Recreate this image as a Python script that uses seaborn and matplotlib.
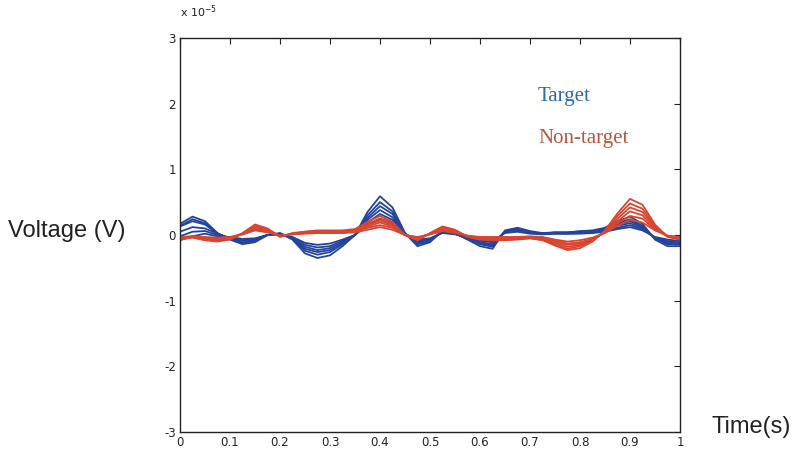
import numpy as np
import pandas as pd
import matplotlib
matplotlib.use("Agg")
import matplotlib.pyplot as plt
import seaborn as sns

# time axis (s)
time_s = [round(i * 0.025, 3) for i in range(41)]

# Target traces (units of 1e-5 V)
target_traces = [
    [0.17,0.28,0.21,0.03,-0.07,-0.14,-0.11,0.00,0.03,-0.07,-0.28,-0.35,-0.31,-0.17,0.00,0.35,0.59,0.42,0.03,-0.17,-0.11,0.07,0.03,-0.07,-0.17,-0.21,0.07,0.11,0.06,0.03,0.04,0.04,0.06,0.07,0.11,0.21,0.28,0.17,-0.07,-0.17,-0.17],
    [0.14,0.24,0.18,0.02,-0.06,-0.12,-0.10,0.00,0.02,-0.06,-0.24,-0.30,-0.26,-0.14,0.00,0.30,0.50,0.36,0.02,-0.14,-0.10,0.06,0.02,-0.06,-0.14,-0.18,0.06,0.10,0.05,0.02,0.04,0.04,0.05,0.06,0.10,0.18,0.24,0.14,-0.06,-0.14,-0.14],
    [0.13,0.21,0.16,0.02,-0.05,-0.11,-0.08,0.00,0.02,-0.05,-0.21,-0.26,-0.23,-0.13,0.00,0.26,0.44,0.32,0.02,-0.13,-0.08,0.05,0.02,-0.05,-0.13,-0.16,0.05,0.08,0.04,0.02,0.03,0.03,0.04,0.05,0.08,0.16,0.21,0.13,-0.05,-0.13,-0.15],
    [0.05,0.12,0.10,0.02,-0.05,-0.09,-0.07,0.00,0.02,-0.05,-0.18,-0.23,-0.20,-0.11,0.00,0.23,0.38,0.27,0.02,-0.11,-0.07,0.05,0.02,-0.05,-0.11,-0.14,0.05,0.07,0.04,0.02,0.03,0.03,0.04,0.05,0.07,0.14,0.18,0.11,-0.05,-0.11,-0.13],
    [-0.02,0.05,0.06,0.00,-0.04,-0.08,-0.06,0.00,0.02,-0.04,-0.15,-0.19,-0.17,-0.09,0.00,0.19,0.32,0.23,0.02,-0.09,-0.06,0.04,0.02,-0.04,-0.09,-0.11,0.04,0.06,0.03,0.02,0.02,0.02,0.03,0.04,0.06,0.11,0.15,0.09,-0.04,-0.09,-0.11],
    [-0.08,-0.02,0.02,-0.02,-0.03,-0.06,-0.05,0.00,0.01,-0.03,-0.12,-0.15,-0.13,-0.07,0.00,0.15,0.25,0.18,0.01,-0.07,-0.05,0.03,0.01,-0.03,-0.07,-0.09,0.03,0.05,0.02,0.01,0.02,0.02,0.02,0.03,0.05,0.09,0.12,0.07,-0.03,-0.07,-0.09],
]

# Non-target traces (units of 1e-5 V)
nontarget_traces = [
    [-0.07,-0.04,-0.08,-0.10,-0.07,0.03,0.16,0.10,-0.03,0.03,0.05,0.07,0.07,0.07,0.09,0.20,0.29,0.20,0.00,-0.08,0.03,0.13,0.08,-0.03,-0.07,-0.08,-0.08,-0.07,-0.05,-0.08,-0.16,-0.23,-0.20,-0.10,0.07,0.33,0.55,0.46,0.16,-0.03,-0.07],
    [-0.06,-0.03,-0.07,-0.09,-0.06,0.02,0.14,0.09,-0.02,0.02,0.05,0.06,0.06,0.06,0.08,0.17,0.25,0.17,0.00,-0.07,0.02,0.12,0.07,-0.02,-0.06,-0.07,-0.07,-0.06,-0.05,-0.07,-0.14,-0.21,-0.17,-0.09,0.06,0.29,0.48,0.40,0.14,-0.02,-0.06],
    [-0.05,-0.03,-0.06,-0.08,-0.05,0.02,0.12,0.08,-0.02,0.02,0.04,0.05,0.05,0.05,0.07,0.15,0.22,0.15,0.00,-0.06,0.02,0.10,0.06,-0.02,-0.05,-0.06,-0.06,-0.05,-0.04,-0.06,-0.12,-0.18,-0.15,-0.08,0.05,0.25,0.42,0.35,0.12,-0.02,-0.05],
    [-0.04,-0.03,-0.05,-0.07,-0.04,0.02,0.10,0.07,-0.02,0.02,0.03,0.04,0.04,0.04,0.06,0.13,0.19,0.13,0.00,-0.05,0.02,0.09,0.05,-0.02,-0.04,-0.05,-0.05,-0.04,-0.03,-0.05,-0.10,-0.15,-0.13,-0.07,0.04,0.21,0.36,0.30,0.10,-0.02,-0.04],
    [-0.04,-0.02,-0.04,-0.06,-0.04,0.01,0.08,0.06,-0.01,0.01,0.03,0.04,0.04,0.04,0.05,0.11,0.15,0.11,0.00,-0.04,0.01,0.07,0.04,-0.01,-0.04,-0.04,-0.04,-0.04,-0.03,-0.04,-0.08,-0.13,-0.11,-0.06,0.04,0.18,0.29,0.25,0.08,-0.01,-0.04],
    [-0.03,-0.02,-0.03,-0.04,-0.03,0.01,0.07,0.04,-0.01,0.01,0.02,0.03,0.03,0.03,0.04,0.08,0.12,0.08,0.00,-0.03,0.01,0.06,0.03,-0.01,-0.03,-0.03,-0.03,-0.03,-0.02,-0.03,-0.07,-0.10,-0.08,-0.04,0.03,0.14,0.23,0.19,0.07,-0.01,-0.03],
]

x_ticks = [0, 0.1, 0.2, 0.3, 0.4, 0.5, 0.6, 0.7, 0.8, 0.9, 1]
x_tick_labels = ["0", "0.1", "0.2", "0.3", "0.4", "0.5", "0.6", "0.7", "0.8", "0.9", "1"]
y_ticks = [-3, -2, -1, 0, 1, 2, 3]

rows = []
for grp, traces in (("Target", target_traces), ("Non-target", nontarget_traces)):
    for k, tr in enumerate(traces):
        for t, v in zip(time_s, tr):
            rows.append({"t": t, "v": v, "group": grp, "trace": f"{grp}{k}"})
df = pd.DataFrame(rows)

sns.set_style("white")
plt.rcParams["font.family"] = ["DejaVu Sans"]

fig = plt.figure(figsize=(7.93, 4.5), dpi=100)
ax = fig.add_axes([180/793, 1-432/450, 500/793, 394/450])

blue = "#23449c"
red = "#d9452f"
sns.lineplot(data=df[df.group == "Target"], x="t", y="v", units="trace", estimator=None,
             color=blue, lw=1.3, ax=ax, legend=False)
sns.lineplot(data=df[df.group == "Non-target"], x="t", y="v", units="trace", estimator=None,
             color=red, lw=1.3, ax=ax, legend=False)

ax.set_xlim(0, 1)
ax.set_ylim(-3, 3)
ax.set_xticks(x_ticks)
ax.set_xticklabels(x_tick_labels)
ax.set_yticks(y_ticks)
ax.set_yticklabels([str(v) for v in y_ticks])
ax.tick_params(direction="in", top=True, right=True, length=4, width=0.8,
               labelsize=8.5, colors="#222222", pad=3)
for s in ax.spines.values():
    s.set_visible(True)
    s.set_color("#222222")
    s.set_linewidth(1.0)
ax.set_xlabel("")
ax.set_ylabel("")

fig.text(180/793, 1-12/450, r"x 10$^{-5}$", fontsize=8, color="#222222", ha="left", va="center")
fig.text(8/793, 1-231/450, "Voltage (V)", fontsize=17, color="#222222", ha="left", va="center",
         family=["Liberation Sans", "DejaVu Sans"])
fig.text(712/793, 1-427/450, "Time(s)", fontsize=17, color="#222222", ha="left", va="center",
         family=["Liberation Sans", "DejaVu Sans"])
fig.text(538/793, 1-97/450, "Target", fontsize=15, color="#2f6aa8", ha="left", va="center",
         family=["Liberation Serif", "DejaVu Serif"])
fig.text(538/793, 1-138/450, "Non-target", fontsize=15, color="#b8553d", ha="left", va="center",
         family=["Liberation Serif", "DejaVu Serif"])

fig.savefig("out.png", dpi=100)
